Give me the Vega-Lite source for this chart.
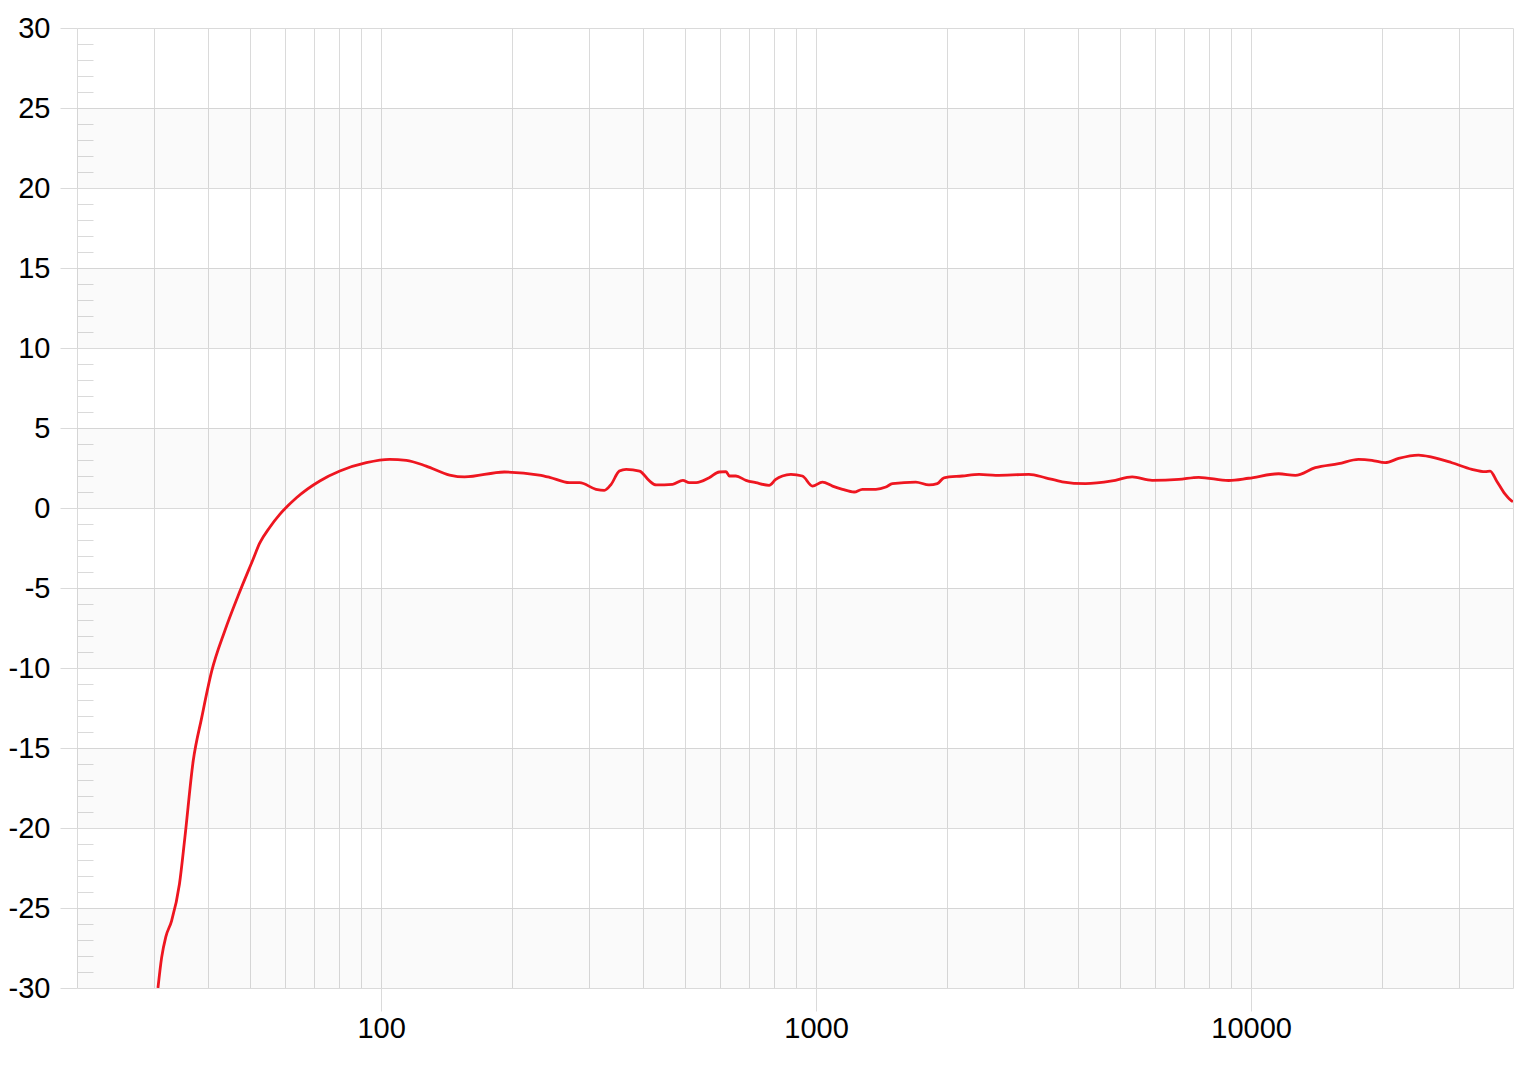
{
  "$schema": "https://vega.github.io/schema/vega-lite/v6.json",
  "width": 1436,
  "height": 960,
  "autosize": {"type": "none"},
  "padding": {"left": 77, "top": 28, "right": 7, "bottom": 79},
  "background": "white",
  "config": {
    "view": {"stroke": null},
    "font": "Liberation Sans",
    "axis": {
      "domain": false,
      "gridColor": "#dadada",
      "gridWidth": 1,
      "tickColor": "#dadada",
      "tickWidth": 1,
      "labelFont": "Liberation Sans",
      "labelColor": "#000000",
      "labelFontSize": 29,
      "labelFlush": false,
      "labelOverlap": false,
      "title": null
    }
  },
  "datasets": {
    "bands": [
      {"lo": 20, "hi": 25},
      {"lo": 10, "hi": 15},
      {"lo": 0, "hi": 5},
      {"lo": -10, "hi": -5},
      {"lo": -20, "hi": -15},
      {"lo": -30, "hi": -25}
    ],
    "curve": [
      {"f": 30.7, "db": -30},
      {"f": 31.3, "db": -28.1},
      {"f": 32.0, "db": -26.8},
      {"f": 33.0, "db": -25.8},
      {"f": 34.4, "db": -23.5},
      {"f": 35.4, "db": -20.6},
      {"f": 37.0, "db": -15.8},
      {"f": 38.7, "db": -13.1},
      {"f": 40.8, "db": -10.2},
      {"f": 43.7, "db": -7.7},
      {"f": 46.9, "db": -5.5},
      {"f": 50.8, "db": -3.2},
      {"f": 52.6, "db": -2.2},
      {"f": 55.5, "db": -1.2},
      {"f": 58.5, "db": -0.4},
      {"f": 63.9, "db": 0.64},
      {"f": 72.3, "db": 1.69},
      {"f": 80.4, "db": 2.31},
      {"f": 92.5, "db": 2.83},
      {"f": 104.6, "db": 3.04},
      {"f": 114.3, "db": 2.98},
      {"f": 127, "db": 2.62},
      {"f": 143.7, "db": 2.06},
      {"f": 155.6, "db": 1.94},
      {"f": 192, "db": 2.25},
      {"f": 231, "db": 2.06},
      {"f": 244, "db": 1.92},
      {"f": 271, "db": 1.58},
      {"f": 286, "db": 1.58},
      {"f": 312, "db": 1.17},
      {"f": 326, "db": 1.1},
      {"f": 338, "db": 1.48},
      {"f": 353, "db": 2.31},
      {"f": 366, "db": 2.42},
      {"f": 393, "db": 2.31},
      {"f": 414, "db": 1.69},
      {"f": 429, "db": 1.44},
      {"f": 468, "db": 1.48},
      {"f": 494, "db": 1.73},
      {"f": 511, "db": 1.58},
      {"f": 530, "db": 1.58},
      {"f": 568, "db": 1.89},
      {"f": 599, "db": 2.25},
      {"f": 621, "db": 2.27},
      {"f": 632, "db": 2.0},
      {"f": 654, "db": 2.0},
      {"f": 690, "db": 1.73},
      {"f": 727, "db": 1.58},
      {"f": 780, "db": 1.42},
      {"f": 808, "db": 1.79},
      {"f": 837, "db": 2.0},
      {"f": 875, "db": 2.1},
      {"f": 930, "db": 2.0},
      {"f": 981, "db": 1.37},
      {"f": 1034, "db": 1.62},
      {"f": 1091, "db": 1.37},
      {"f": 1150, "db": 1.17},
      {"f": 1223, "db": 1.0},
      {"f": 1278, "db": 1.17},
      {"f": 1372, "db": 1.17},
      {"f": 1447, "db": 1.31},
      {"f": 1498, "db": 1.52},
      {"f": 1695, "db": 1.62},
      {"f": 1818, "db": 1.44},
      {"f": 1900, "db": 1.52},
      {"f": 1968, "db": 1.89},
      {"f": 2168, "db": 2.0},
      {"f": 2369, "db": 2.1},
      {"f": 2588, "db": 2.04},
      {"f": 3086, "db": 2.1},
      {"f": 3371, "db": 1.89},
      {"f": 3680, "db": 1.64},
      {"f": 4164, "db": 1.52},
      {"f": 4792, "db": 1.69},
      {"f": 5329, "db": 1.94},
      {"f": 5921, "db": 1.73},
      {"f": 6818, "db": 1.79},
      {"f": 7578, "db": 1.92},
      {"f": 8883, "db": 1.72},
      {"f": 9872, "db": 1.86},
      {"f": 11570, "db": 2.14},
      {"f": 12638, "db": 2.04},
      {"f": 14048, "db": 2.52},
      {"f": 15890, "db": 2.77},
      {"f": 17662, "db": 3.04},
      {"f": 18950, "db": 2.98},
      {"f": 20340, "db": 2.83},
      {"f": 21830, "db": 3.1},
      {"f": 24260, "db": 3.31},
      {"f": 26030, "db": 3.18},
      {"f": 28940, "db": 2.83},
      {"f": 32170, "db": 2.42},
      {"f": 34520, "db": 2.27},
      {"f": 35440, "db": 2.31},
      {"f": 36680, "db": 1.69},
      {"f": 38370, "db": 0.86},
      {"f": 39730, "db": 0.44},
      {"f": 40000, "db": 0.4}
    ]
  },
  "layer": [
    {
      "data": {"name": "bands"},
      "mark": {"type": "rect", "fill": "#000000", "fillOpacity": 0.018},
      "encoding": {
        "y": {
          "field": "lo",
          "type": "quantitative",
          "scale": {"domain": [-30, 30], "nice": false, "zero": false},
          "axis": {
            "values": [-30,-29,-28,-27,-26,-25,-24,-23,-22,-21,-20,-19,-18,-17,-16,-15,-14,-13,-12,-11,-10,-9,-8,-7,-6,-5,-4,-3,-2,-1,0,1,2,3,4,5,6,7,8,9,10,11,12,13,14,15,16,17,18,19,20,21,22,23,24,25,26,27,28,29,30],
            "grid": true,
            "labelOverlap": false,
            "tickCount": 61,
            "gridOpacity": {"condition": {"test": "datum.value % 5 === 0", "value": 1}, "value": 0},
            "tickSize": {"condition": {"test": "datum.value % 5 === 0", "value": 17}, "value": -16},
            "labelExpr": "datum.value % 5 === 0 ? '' + datum.value : ''",
            "labelPadding": 10
          }
        },
        "y2": {"field": "hi"}
      }
    },
    {
      "data": {"name": "curve"},
      "mark": {"type": "line", "color": "#ee1620", "strokeWidth": 2.8, "interpolate": "monotone", "clip": true},
      "encoding": {
        "x": {
          "field": "f",
          "type": "quantitative",
          "scale": {"type": "log", "domain": [20, 40000], "nice": false},
          "axis": {
            "values": [20,30,40,50,60,70,80,90,100,200,300,400,500,600,700,800,900,1000,2000,3000,4000,5000,6000,7000,8000,9000,10000,20000,30000,40000],
            "grid": true,
            "labelOverlap": false,
            "format": "d",
            "tickSize": 23,
            "tickOpacity": {"condition": {"test": "datum.value === 100 || datum.value === 1000 || datum.value === 10000", "value": 1}, "value": 0},
            "labelExpr": "(datum.value === 100 || datum.value === 1000 || datum.value === 10000) ? datum.label : ''",
            "labelPadding": 3
          }
        },
        "y": {"field": "db", "type": "quantitative"}
      }
    }
  ]
}
